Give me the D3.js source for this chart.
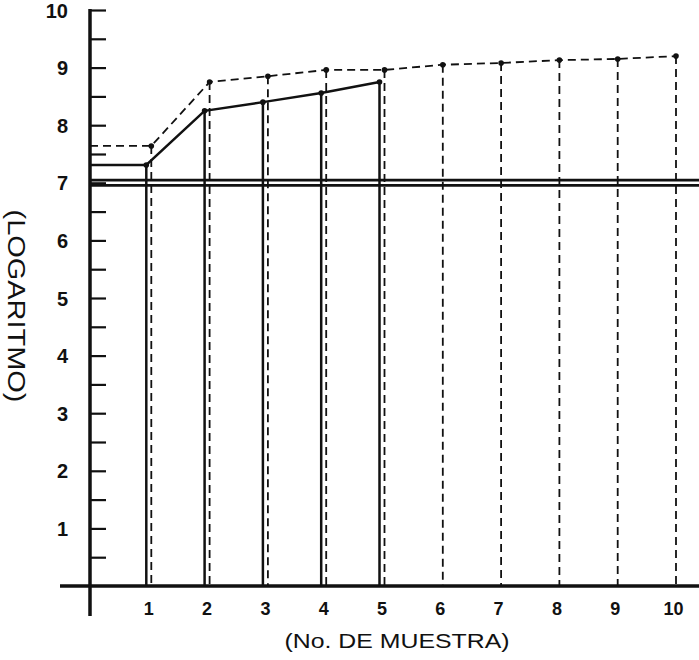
<!DOCTYPE html>
<html>
<head>
<meta charset="utf-8">
<script src="https://cdn.jsdelivr.net/npm/d3@7"></script>
<style>
  body { margin: 0; background: #fff; }
  svg text { font-family: "Liberation Sans", Arial, sans-serif; fill: #111; font-weight: bold; }
  .axis .domain { display: none; }
</style>
</head>
<body>
<div class="chart"></div>
<script>
// data
var samples = [1, 2, 3, 4, 5, 6, 7, 8, 9, 10];
var solidValues = [7.31, 8.25, 8.40, 8.56, 8.75];
var dashedValues = [7.64, 8.75, 8.85, 8.96, 8.96, 9.05, 9.08, 9.13, 9.15, 9.20];
var refValue = 7;
var yLabels = [1, 2, 3, 4, 5, 6, 7, 8, 9, 10];
var yTicks = d3.range(0.5, 10.01, 0.5);

var svgWidth = 699;
var svgHeight = 660;

var svg = d3.select(".chart")
  .append("svg")
  .attr("width", svgWidth)
  .attr("height", svgHeight);

var x = d3.scaleLinear().domain([0, 10]).range([90, 673]);
var y = d3.scaleLinear().domain([0, 10]).range([586, 10]);

var ink = "#111";

// ticks on the right side of the y axis
svg.append("g")
  .attr("class", "axis")
  .attr("transform", `translate(${x(0)}, 0)`)
  .call(d3.axisRight(y).tickValues(yTicks).tickSize(16).tickFormat(""))
  .selectAll("line")
  .attr("stroke", ink)
  .attr("stroke-width", 2.2);

// y labels
svg.append("g")
  .attr("class", "axis")
  .attr("transform", `translate(${x(0)}, 0)`)
  .call(d3.axisLeft(y).tickValues(yLabels).tickSize(0).tickPadding(22).tickFormat(d3.format("d")))
  .selectAll("text")
  .style("font-size", "20px")
  .attr("dy", "0.35em");

// x labels
svg.append("g")
  .attr("class", "axis")
  .attr("transform", `translate(0, ${y(0)})`)
  .call(d3.axisBottom(x).tickValues(samples).tickSize(0).tickPadding(16).tickFormat(d3.format("d")))
  .selectAll("text")
  .style("font-size", "18px");

// main axes
svg.append("line")
  .attr("x1", 60).attr("x2", svgWidth)
  .attr("y1", y(0)).attr("y2", y(0))
  .attr("stroke", ink).attr("stroke-width", 3.5);
svg.append("line")
  .attr("x1", x(0)).attr("x2", x(0))
  .attr("y1", y(10) - 1).attr("y2", 616)
  .attr("stroke", ink).attr("stroke-width", 3.5);

// double reference line at 7
[-2.6, 2.6].forEach(function(off) {
  svg.append("line")
    .attr("x1", x(0)).attr("x2", svgWidth)
    .attr("y1", y(refValue) + off).attr("y2", y(refValue) + off)
    .attr("stroke", ink).attr("stroke-width", 2.8);
});

// dashed series
var dashedData = samples.map((s, i) => ({s: s, v: dashedValues[i]}));
var dashOff = 3;

svg.selectAll(".dashDrop")
  .data(dashedData)
  .enter()
  .append("line")
  .attr("class", "dashDrop")
  .attr("x1", d => x(d.s) + dashOff).attr("x2", d => x(d.s) + dashOff)
  .attr("y1", d => y(d.v)).attr("y2", y(0))
  .attr("stroke", ink).attr("stroke-width", 1.8)
  .attr("stroke-dasharray", "8,5");

var dashedLine = d3.line()
  .x(d => d.s === 0 ? x(0) : x(d.s) + dashOff)
  .y(d => y(d.v));

svg.append("path")
  .datum([{s: 0, v: dashedValues[0]}].concat(dashedData))
  .attr("d", dashedLine)
  .attr("fill", "none")
  .attr("stroke", ink).attr("stroke-width", 1.8)
  .attr("stroke-dasharray", "8,5");

svg.selectAll(".dashDot")
  .data(dashedData)
  .enter()
  .append("circle")
  .attr("cx", d => x(d.s) + dashOff)
  .attr("cy", d => y(d.v))
  .attr("r", 2.8)
  .attr("fill", ink);

// solid series
var solidData = solidValues.map((v, i) => ({s: samples[i], v: v}));
var solidOff = -2;

svg.selectAll(".solidDrop")
  .data(solidData)
  .enter()
  .append("line")
  .attr("x1", d => x(d.s) + solidOff).attr("x2", d => x(d.s) + solidOff)
  .attr("y1", d => y(d.v)).attr("y2", y(0))
  .attr("stroke", ink).attr("stroke-width", 2.5);

var solidLine = d3.line()
  .x(d => d.s === 0 ? x(0) : x(d.s) + solidOff)
  .y(d => y(d.v));

svg.append("path")
  .datum([{s: 0, v: solidValues[0]}].concat(solidData))
  .attr("d", solidLine)
  .attr("fill", "none")
  .attr("stroke", ink).attr("stroke-width", 2.4);

svg.selectAll(".solidDot")
  .data(solidData)
  .enter()
  .append("circle")
  .attr("cx", d => x(d.s) + solidOff)
  .attr("cy", d => y(d.v))
  .attr("r", 2.8)
  .attr("fill", ink);

// axis titles
svg.append("text")
  .attr("x", 397)
  .attr("y", 641)
  .attr("dy", "0.35em")
  .attr("text-anchor", "middle")
  .attr("textLength", 225)
  .attr("lengthAdjust", "spacingAndGlyphs")
  .style("font-size", "21px")
  .style("font-weight", "normal")
  .text("(No. DE MUESTRA)");

svg.append("text")
  .attr("transform", "translate(16, 306) rotate(90)")
  .attr("dy", "0.35em")
  .attr("text-anchor", "middle")
  .attr("textLength", 193)
  .attr("lengthAdjust", "spacingAndGlyphs")
  .style("font-size", "23px")
  .style("font-weight", "normal")
  .text("(LOGARITMO)");
</script>
</body>
</html>
